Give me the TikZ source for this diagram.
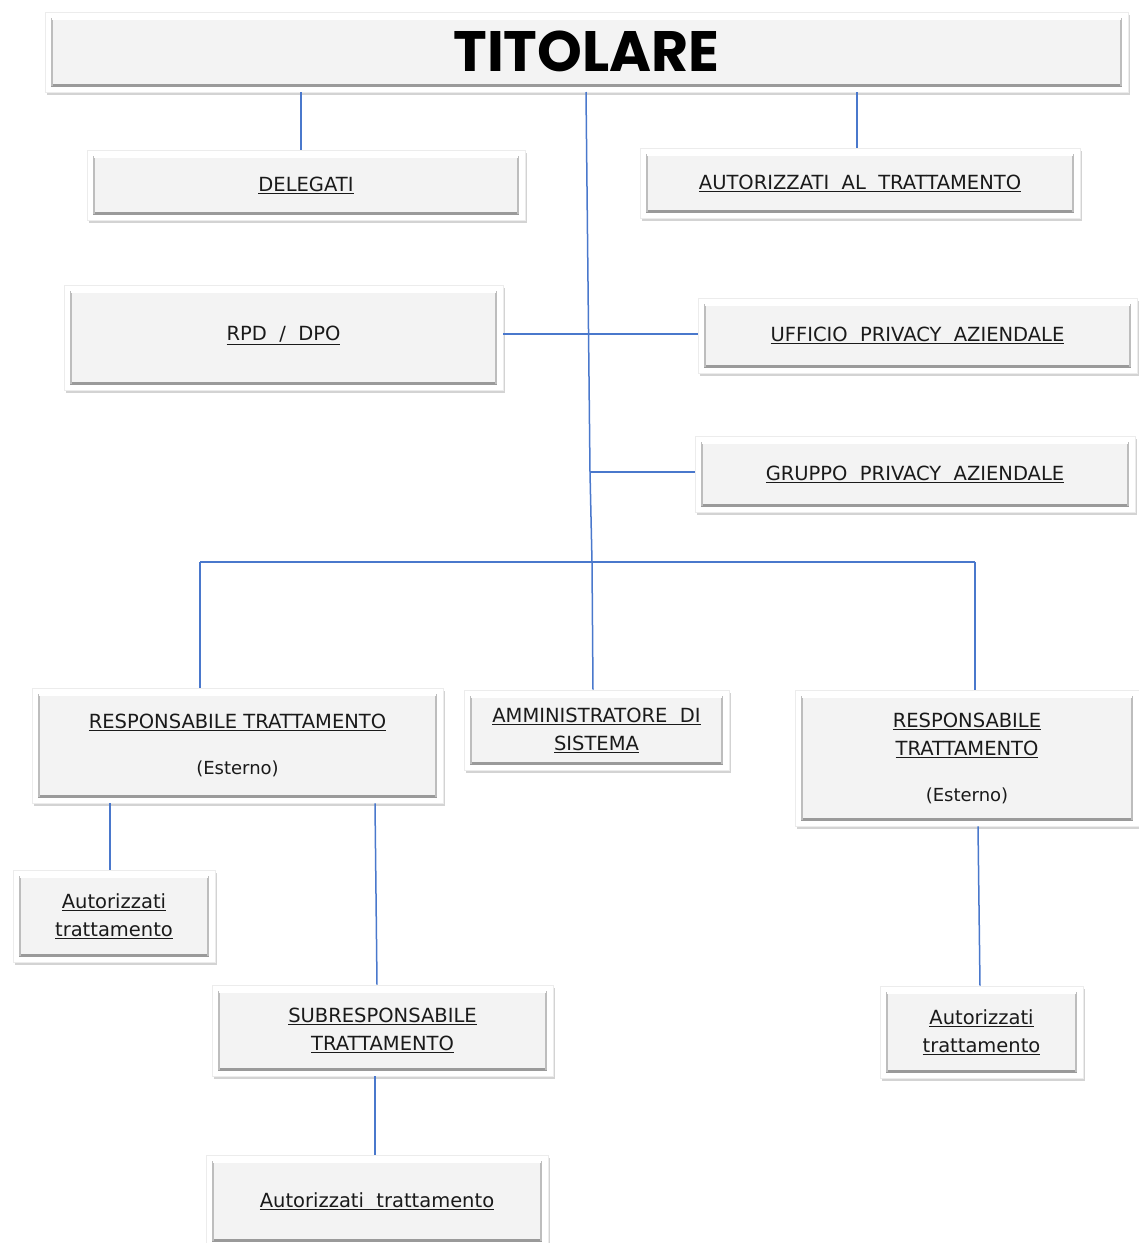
\documentclass[tikz,border=0pt]{standalone}
\usepackage{fontspec}
\setmainfont{DejaVu Sans}
\newfontfamily\titfont{Poppins}
\usetikzlibrary{shadows}
\definecolor{conncol}{HTML}{4A78CC}
\definecolor{boxfill}{HTML}{F3F3F3}
\definecolor{bevdark}{HTML}{9A9A9A}
\definecolor{bevmid}{HTML}{BDBDBD}
\definecolor{txt}{HTML}{1A1A1A}
\tikzset{
  conn/.style={draw=conncol, line width=1.5pt},
  card/.style={draw=gray!15, fill=white, line width=0.6pt, text=txt,
    drop shadow={shadow xshift=2pt, shadow yshift=-3pt, opacity=0.35, fill=gray},
    inner sep=0pt, align=center, font=\fontsize{19.5}{28}\selectfont,
    path picture={
      \fill[boxfill] ([shift={(6pt,-6pt)}]path picture bounding box.north west)
        rectangle ([shift={(-6pt,6pt)}]path picture bounding box.south east);
      \draw[bevdark, line width=3pt] ([shift={(6pt,7pt)}]path picture bounding box.south west)
        -- ([shift={(-6pt,7pt)}]path picture bounding box.south east);
      \draw[bevmid, line width=2pt] ([shift={(7pt,-6pt)}]path picture bounding box.north west)
        -- ([shift={(7pt,6pt)}]path picture bounding box.south west);
      \draw[bevmid, line width=1.5pt] ([shift={(-7pt,-6pt)}]path picture bounding box.north east)
        -- ([shift={(-7pt,6pt)}]path picture bounding box.south east);
      \draw[white, line width=1.5pt] ([shift={(7pt,-7pt)}]path picture bounding box.north west)
        -- ([shift={(-7pt,-7pt)}]path picture bounding box.north east);
    }},
}
\newcommand{\ul}[1]{\underline{#1}}
\begin{document}
\begin{tikzpicture}[x=1pt,y=-1pt]
\useasboundingbox (0,0) rectangle (1139,1243);
% boxes
\node[card, text=black, minimum width=1083pt, minimum height=80pt] (tit) at (586.5,52)
  {\titfont\bfseries\fontsize{57}{57}\selectfont \raisebox{2pt}{TITOLARE}};
\node[card, minimum width=438pt, minimum height=70pt] (dlg) at (306,185) {\raisebox{-2pt}{\ul{DELEGATI}}};
\node[card, minimum width=440pt, minimum height=70pt] (aut) at (860,183) {\raisebox{-2pt}{\ul{AUTORIZZATI\ \ AL\ \ TRATTAMENTO}}};
\node[card, minimum width=439pt, minimum height=105pt] (rpd) at (283.5,337.5) {\raisebox{8pt}{\ul{RPD\ \ /\ \ DPO}}};
\node[card, minimum width=439pt, minimum height=75pt] (uff) at (917.5,335.5) {\raisebox{-2pt}{\ul{UFFICIO\ \ PRIVACY\ \ AZIENDALE}}};
\node[card, minimum width=440pt, minimum height=76pt] (grp) at (915,474) {\raisebox{-1pt}{\ul{GRUPPO\ \ PRIVACY\ \ AZIENDALE}}};
\node[card, minimum width=411pt, minimum height=115pt] (rtl) at (237.5,745.5)
  {\ul{RESPONSABILE\ TRATTAMENTO}\\[18pt]{\fontsize{18}{22}\selectfont(Esterno)}};
\node[card, minimum width=265pt, minimum height=80pt] (amm) at (596.5,730)
  {\ul{AMMINISTRATORE\ \ DI}\\\ul{SISTEMA}};
\node[card, minimum width=344pt, minimum height=136pt] (rtr) at (967,758)
  {\ul{RESPONSABILE}\\\ul{TRATTAMENTO}\\[18pt]{\fontsize{18}{22}\selectfont(Esterno)}};
\node[card, minimum width=202pt, minimum height=92pt] (al) at (114,916)
  {\ul{Autorizzati}\\\ul{trattamento}};
\node[card, minimum width=341pt, minimum height=91pt] (sub) at (382.5,1030.5)
  {\ul{SUBRESPONSABILE}\\\ul{TRATTAMENTO}};
\node[card, minimum width=203pt, minimum height=92pt] (ar) at (981.5,1032)
  {\ul{Autorizzati}\\\ul{trattamento}};
\node[card, minimum width=342pt, minimum height=92pt] (ab) at (377,1201)
  {\ul{Autorizzati\ \ trattamento}};
% junction coordinates
\coordinate (tl) at (301,92);
\coordinate (tr) at (857,92);
\coordinate (tc) at (586,92);
\coordinate (jr) at (588,334);
\coordinate (jg) at (590,472);
\coordinate (jm) at (592,562);
\coordinate (hl) at (200,562);
\coordinate (hr) at (975,562);
% connectors
\draw[conn] (tl) -- (tl |- dlg.north);
\draw[conn] (tr) -- (tr |- aut.north);
\draw[conn] (tc) -- (jg) -- (jm) -- (amm.north -| 593,0);
\draw[conn] (jr -| rpd.east) -- (jr -| uff.west);
\draw[conn] (jg) -- (jg -| grp.west);
\draw[conn] (hl) -- (hr);
\draw[conn] (hl) -- (hl |- rtl.north);
\draw[conn] (hr) -- (hr |- rtr.north);
\draw[conn] (rtl.south -| 110,0) -- (al.north -| 110,0);
\draw[conn] (rtl.south -| 375,0) -- (sub.north -| 377,0);
\draw[conn] (rtr.south -| 978,0) -- (ar.north -| 980,0);
\draw[conn] (sub.south -| 375,0) -- (ab.north -| 375,0);
\end{tikzpicture}
\end{document}
